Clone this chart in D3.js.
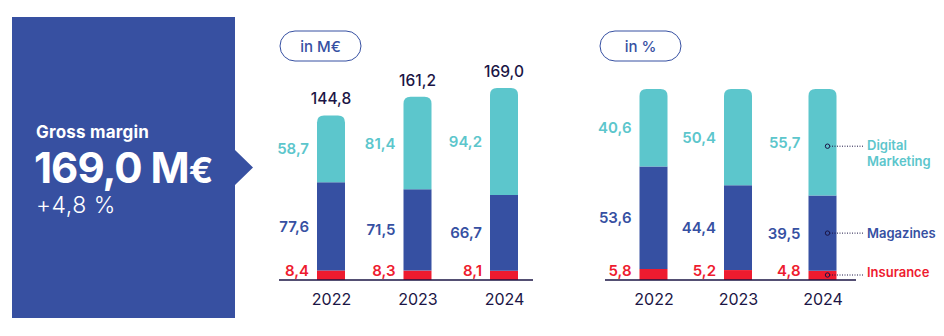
<!DOCTYPE html>
<html>
<head>
<meta charset="utf-8">
<script src="https://cdn.jsdelivr.net/npm/d3@7"></script>
<style>
  body { margin: 0; background: #fff; }
  text { font-family: Inter, "Noto Sans", sans-serif; }
</style>
</head>
<body>
<div id="chart"></div>
<script>
// Data
var years = ["2022", "2023", "2024"];
var keys = ["insurance", "magazines", "digital"];
var legendLabels = [["Insurance"], ["Magazines"], ["Digital", "Marketing"]];

var totalM = [144.8, 161.2, 169.0];
var insuranceM = [8.4, 8.3, 8.1];
var magazinesM = [77.6, 71.5, 66.7];
var digitalM = [58.7, 81.4, 94.2];

var insurancePct = [5.8, 5.2, 4.8];
var magazinesPct = [53.6, 44.4, 39.5];
var digitalPct = [40.6, 50.4, 55.7];

var colors = { insurance: "#ee1b2f", magazines: "#3650a2", digital: "#5cc6cc" };
var navy = "#1b1545";
var fmt = function(v) { return v.toFixed(1).replace(".", ","); };

var svgWidth = 944, svgHeight = 336;
var svg = d3.select("#chart").append("svg")
  .attr("width", svgWidth)
  .attr("height", svgHeight);

// Highlight box with arrow
svg.append("path")
  .attr("d", "M12,17 H235 V150 L253,167.5 L235,185 V318 H12 Z")
  .attr("fill", "#3750a1");

svg.append("text").attr("x", 36).attr("y", 138)
  .attr("fill", "#fff").attr("font-size", 17).attr("font-weight", 700)
  .attr("letter-spacing", 0.2)
  .text("Gross margin");
var big = svg.append("text").attr("x", 34).attr("y", 183)
  .attr("fill", "#fff").attr("font-size", 42).attr("font-weight", 700)
  .attr("letter-spacing", -1);
big.append("tspan").text("169,0 M");
big.append("tspan").attr("font-size", 36).text("€");
svg.append("text").attr("x", 36).attr("y", 213)
  .attr("fill", "#fff").attr("font-size", 23).attr("font-weight", 300)
  .attr("letter-spacing", 0.5)
  .text("+4,8 %");

var barW = 28;
var baseY = 280;

function drawPanel(opts) {
  var rows = years.map(function(y, i) {
    return { year: y, insurance: opts.ins[i], magazines: opts.mag[i], digital: opts.dig[i] };
  });
  var series = d3.stack().keys(keys)(rows);

  var x = d3.scalePoint().domain(years).range(opts.xRange);
  var y = d3.scaleLinear().domain([0, opts.max]).range([baseY, opts.top]);

  var g = svg.append("g");

  // pill
  g.append("rect")
    .attr("x", opts.pill[0]).attr("y", 31)
    .attr("width", opts.pill[1] - opts.pill[0]).attr("height", 30)
    .attr("rx", 15)
    .attr("fill", "none").attr("stroke", "#3650a2").attr("stroke-width", 1);
  g.append("text")
    .attr("x", (opts.pill[0] + opts.pill[1]) / 2).attr("y", 52)
    .attr("text-anchor", "middle").attr("font-size", 15).attr("font-weight", 500)
    .attr("fill", "#3650a2")
    .text(opts.pillText);

  // bars
  series.forEach(function(s) {
    var isTop = s.key === "digital";
    g.append("g").selectAll("path")
      .data(s)
      .join("path")
      .attr("fill", colors[s.key])
      .attr("d", function(d) {
        var x0 = x(d.data.year) - barW / 2, x1 = x0 + barW;
        var yt = y(d[1]), yb = y(d[0]);
        if (!isTop) return "M" + x0 + "," + yb + "V" + yt + "H" + x1 + "V" + yb + "Z";
        var r = 7;
        return "M" + x0 + "," + yb + "V" + (yt + r) + "Q" + x0 + "," + yt + " " + (x0 + r) + "," + yt +
          "H" + (x1 - r) + "Q" + x1 + "," + yt + " " + x1 + "," + (yt + r) + "V" + yb + "Z";
      });

    // segment labels
    g.append("g").selectAll("text")
      .data(s)
      .join("text")
      .attr("x", function(d) { return x(d.data.year) - barW / 2 - 8; })
      .attr("y", function(d) {
        if (s.key === "insurance") return y(0) - 4;
        return (y(d[0]) + y(d[1])) / 2 + 5.5;
      })
      .attr("text-anchor", "end")
      .attr("font-size", 15).attr("font-weight", 600)
      .attr("fill", colors[s.key])
      .text(function(d) { return fmt(d[1] - d[0]); });
  });

  // totals
  if (opts.totals) {
    g.append("g").selectAll("text")
      .data(years)
      .join("text")
      .attr("x", function(d) { return x(d); })
      .attr("y", function(d, i) { return y(opts.totals[i]) - 11; })
      .attr("text-anchor", "middle")
      .attr("font-size", 15.5).attr("font-weight", 500)
      .attr("fill", navy)
      .text(function(d, i) { return fmt(opts.totals[i]); });
  }

  // baseline
  g.append("line")
    .attr("x1", opts.axis[0]).attr("x2", opts.axis[1])
    .attr("y1", baseY).attr("y2", baseY)
    .attr("stroke", navy).attr("stroke-width", 1.5);

  // year axis
  var axis = g.append("g")
    .attr("transform", "translate(0," + baseY + ")")
    .call(d3.axisBottom(x).tickSize(0).tickPadding(14));
  axis.select(".domain").remove();
  axis.selectAll("text")
    .attr("font-family", "Inter, 'Noto Sans', sans-serif")
    .attr("font-size", 16).attr("fill", navy);

  return { x: x, y: y, series: series };
}

drawPanel({
  ins: insuranceM, mag: magazinesM, dig: digitalM, totals: totalM,
  max: 169.0, top: 88, xRange: [331, 504], axis: [279, 533],
  pill: [280, 361], pillText: "in M€"
});

var right = drawPanel({
  ins: insurancePct, mag: magazinesPct, dig: digitalPct,
  max: 100, top: 89, xRange: [653.5, 822.5], axis: [605, 856],
  pill: [600, 681], pillText: "in %"
});

// legend with dotted leaders from the 2024 bar
var last = years.length - 1;
var dotX = right.x(years[last]) + 5;
keys.forEach(function(k, i) {
  var s = right.series[i][last];
  var cy = k === "insurance" ? 275 : (right.y(s[0]) + right.y(s[1])) / 2 + (k === "digital" ? 4 : 0);
  svg.append("line")
    .attr("x1", dotX + 2).attr("x2", 863)
    .attr("y1", cy).attr("y2", cy)
    .attr("stroke", navy).attr("stroke-width", 1)
    .attr("stroke-dasharray", "1,1.5");
  svg.append("circle")
    .attr("cx", dotX).attr("cy", cy).attr("r", 2.2)
    .attr("fill", colors[k]).attr("stroke", navy).attr("stroke-width", 1);
  var lines = legendLabels[i];
  var t = svg.append("text")
    .attr("x", 867)
    .attr("font-size", 13).attr("font-weight", 600)
    .attr("fill", colors[k]);
  lines.forEach(function(line, j) {
    t.append("tspan")
      .attr("x", 867)
      .attr("y", lines.length > 1 ? cy + 4 + j * 16 : cy + 4.5 - (k === "insurance" ? 3 : 0))
      .text(line);
  });
});
</script>
</body>
</html>
